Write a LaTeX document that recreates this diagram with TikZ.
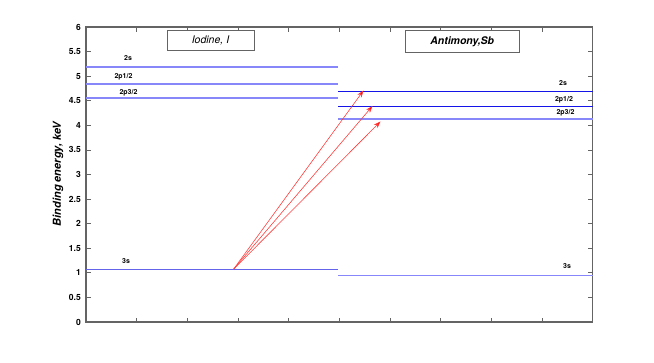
\documentclass[tikz,border=0pt]{standalone}
\usepackage{fontspec}
\setmainfont{TeX Gyre Heros}
\usetikzlibrary{arrows.meta}
\definecolor{lblue}{RGB}{135,135,250}
\definecolor{mblue}{RGB}{100,100,235}
\definecolor{dblue}{RGB}{20,20,230}
\definecolor{axgray}{RGB}{100,100,100}
\definecolor{arrred}{RGB}{255,60,60}
\tikzset{
  axis/.style={draw=axgray,line width=1.1pt},
  tck/.style={draw=axgray,line width=0.8pt},
  ticklab/.style={anchor=east,font=\fontsize{8.5}{9}\selectfont\bfseries,inner sep=0pt},
  lvlab/.style={font=\fontsize{7}{7}\selectfont\bfseries,inner sep=0pt},
  titlebox/.style={draw=axgray,line width=0.8pt,fill=white,inner sep=0pt,font=\fontsize{10.5}{11}\selectfont\itshape},
  thicklev/.style={draw=lblue,line width=1.6pt},
  thinlev/.style={draw=dblue,line width=0.9pt},
  trans/.style={draw=arrred,line width=0.6pt,-{Stealth[length=7pt,width=5pt,fill=red]}}
}
\begin{document}
\begin{tikzpicture}[x=1pt,y=-1pt]
\useasboundingbox (0,0) rectangle (654,362);
% axes frame
\draw[axis] (86,27) rectangle (592.7,322);
% x ticks
\foreach \i in {1,...,9}{
  \pgfmathsetmacro{\xx}{86+50.67*\i}
  \draw[tck] (\xx,322) -- (\xx,317.5);
  \draw[tck] (\xx,27) -- (\xx,31.5);
}
% y ticks and labels
\foreach \v/\t in {0/0,0.5/0.5,1/1,1.5/1.5,2/2,2.5/2.5,3/3,3.5/3.5,4/4,4.5/4.5,5/5,5.5/5.5,6/6}{
  \pgfmathsetmacro{\yy}{322-49.17*\v}
  \draw[tck] (86,\yy) -- (90.5,\yy);
  \draw[tck] (592.7,\yy) -- (588.2,\yy);
  \node[ticklab] (yt\t) at (81,\yy) {\t};
}
% y axis label
\node[rotate=90,font=\fontsize{11}{12}\selectfont\bfseries\itshape] (ylab) at (58,174) {Binding energy, keV};
% Iodine levels
\draw[thicklev] (86,66.7) -- (338.3,66.7);
\draw[thicklev] (86,83.7) -- (338.3,83.7);
\draw[thicklev] (86,97.7) -- (338.3,97.7);
\draw[draw=mblue,line width=0.8pt] (86,269.3) -- (338.3,269.3);
\node[lvlab] (i2s) at (128,58) {2s};
\node[lvlab] (i2p1) at (123.5,76.5) {2p1/2};
\node[lvlab] (i2p3) at (128.5,92.5) {2p3/2};
\node[lvlab] (i3s) at (126,261) {3s};
% Antimony levels
\draw[thinlev] (338.3,91) -- (592.7,91);
\draw[thinlev] (338.3,106.3) -- (592.7,106.3);
\draw[thicklev] (338.3,118.7) -- (592.7,118.7);
\draw[draw=lblue,line width=0.9pt] (338.3,275.7) -- (592.7,275.7);
\node[lvlab] (s2s) at (563,82.5) {2s};
\node[lvlab] (s2p1) at (564,100) {2p1/2};
\node[lvlab] (s2p3) at (565.5,113) {2p3/2};
\node[lvlab] (s3s) at (567,266) {3s};
% titles
\node[titlebox,minimum width=87pt,minimum height=20pt] (iod) at (210.5,40.3) {Iodine, I};
\node[titlebox,minimum width=113.5pt,minimum height=22pt,font=\fontsize{10.5}{11}\selectfont\bfseries\itshape] (sb) at (462.2,41.3) {Antimony,Sb};
% transitions
\coordinate (src) at (233.5,269.3);
\coordinate (t1) at (363.5,90.5);
\coordinate (t2) at (372.5,106);
\coordinate (t3) at (380.5,121.5);
\draw[trans] (src) -- (t1);
\draw[trans] (src) -- (t2);
\draw[trans] (src) -- (t3);
\end{tikzpicture}
\end{document}
